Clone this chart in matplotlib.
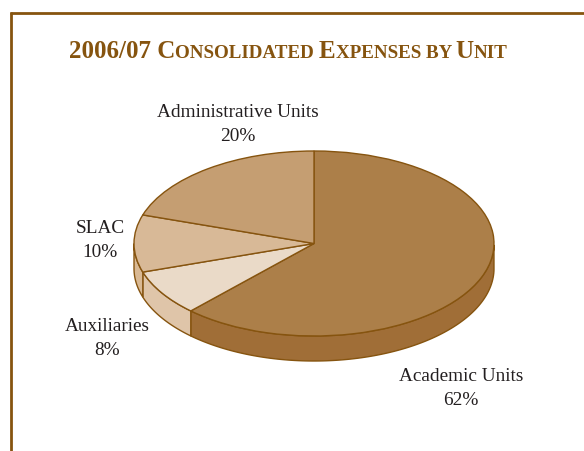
import matplotlib.pyplot as plt
import numpy as np

plt.rcParams['font.family'] = ['Liberation Serif']

# shares, clockwise from twelve o'clock
units = ["Academic Units", "Auxiliaries", "SLAC", "Administrative Units"]
shares = [62, 8, 10, 20]
top_colors = ["#AC7F49", "#EADAC8", "#D8B997", "#C59E72"]
side_colors = ["#A06E37", "#DFC5A9", "#D9B994", "#C59E72"]
label_xy = [(461, 388.5), (107, 338.5), (100, 240.5), (238, 124.5)]

edge = "#86540F"
W, H = 584, 451
cx, cy, rx, ry, depth = 314, 243.5, 180, 92.5, 25

fig = plt.figure(figsize=(W / 100, H / 100), dpi=100)
ax = fig.add_axes([0, 0, 1, 1])

# frame lines along the top and left
fig.add_artist(plt.Line2D([10 / W, 1], [1 - 12.5 / H, 1 - 12.5 / H], color=edge, lw=2,
                          solid_capstyle='butt'))
fig.add_artist(plt.Line2D([11 / W, 11 / W], [0, 1 - 11.5 / H], color=edge, lw=2,
                          solid_capstyle='butt'))

# side wall of the disc, only the part facing down is visible
edges = 90 - np.cumsum([0] + shares) * 3.6
d = depth / ry
for i in range(len(shares)):
    hi, lo = edges[i], edges[i + 1]
    a = np.radians(np.linspace(hi, lo, 200))
    a = a[np.sin(a) <= 0]
    if len(a) == 0:
        continue
    xs = np.cos(a)
    ys = np.sin(a)
    ax.fill(np.r_[xs, xs[::-1]], np.r_[ys, ys[::-1] - d],
            facecolor=side_colors[i], edgecolor=edge, lw=1, zorder=1)

wedges, _ = ax.pie(shares, colors=top_colors, startangle=90, counterclock=False,
                   wedgeprops=dict(edgecolor=edge, linewidth=1, zorder=2))
ax.set_aspect('auto')
ax.set_xlim(-cx / rx, (W - cx) / rx)
ax.set_ylim((cy - H) / ry, cy / ry)
ax.axis('off')

for name, share, (x, y) in zip(units, shares, label_xy):
    fig.text(x / W, 1 - y / H, f"{name}\n{share}%", ha='center', va='center',
             fontsize=13.9, color="#231F20", linespacing=1.6)

# title in small caps: capitals large, the rest set smaller
title = [("2006/07 C", 18), ("ONSOLIDATED ", 13.7), ("E", 18), ("XPENSES BY ", 13.7),
         ("U", 18), ("NIT", 13.7)]
renderer = fig.canvas.get_renderer()


def advance(s, size):
    # a bar at the end keeps trailing spaces in the measured width
    a = fig.text(0, 0, s + "|", fontsize=size, fontweight='bold')
    b = fig.text(0, 0, "|", fontsize=size, fontweight='bold')
    w = a.get_window_extent(renderer).width - b.get_window_extent(renderer).width
    a.remove()
    b.remove()
    return w


x = 69
for part, size in title:
    fig.text(x / W, 1 - 57.5 / H, part, fontsize=size, fontweight='bold', color=edge,
             ha='left', va='baseline')
    x += advance(part, size)

fig.savefig("out.png", dpi=100)
